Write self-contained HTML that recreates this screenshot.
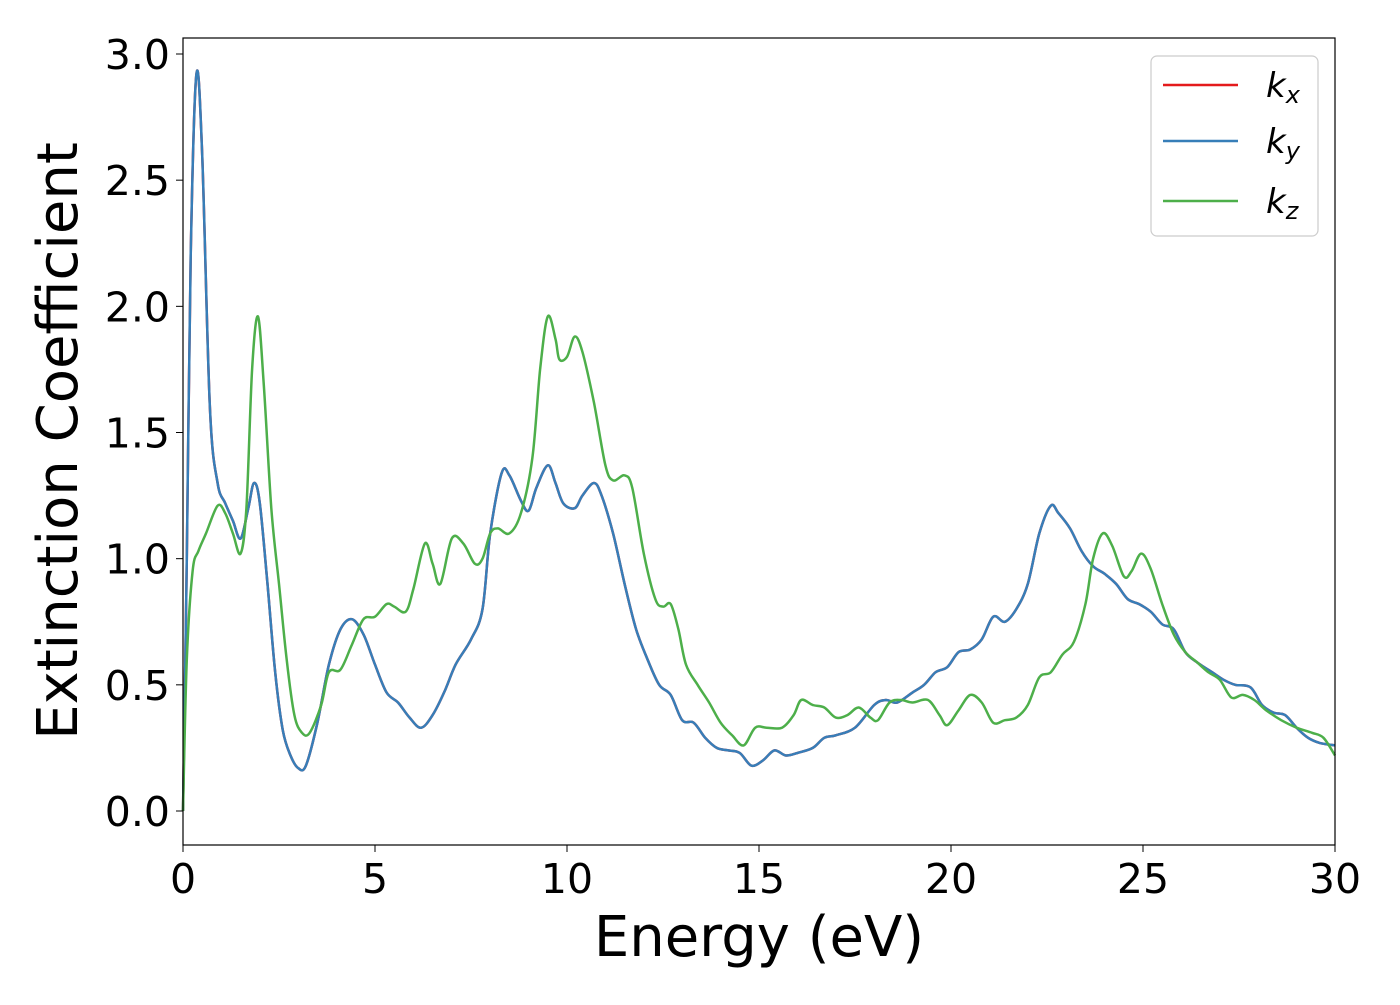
<!DOCTYPE html>
<html><head><meta charset="utf-8"><style>
body{margin:0;background:#fff;width:1400px;height:1000px;overflow:hidden}
text{font-family:"DejaVu Sans","Liberation Sans",sans-serif;fill:#000}
</style></head><body>
<svg id="chart" width="1400" height="1000" xmlns="http://www.w3.org/2000/svg">
<g id="marks"></g>
<rect x="183" y="38" width="1152" height="807" fill="none" stroke="#000" stroke-width="1.2"/>
<g id="ticks"></g>
<text x="759" y="956" font-size="56" text-anchor="middle">Energy (eV)</text>
<text transform="translate(77,441) rotate(-90)" font-size="56" text-anchor="middle">Extinction Coefficient</text>
<g>
<rect x="1151" y="56" width="167" height="180" rx="6" fill="#fff" fill-opacity="0.8" stroke="#ccc" stroke-width="1.2"/>
<line x1="1163" y1="85" x2="1238" y2="85" stroke="#e41a1c" stroke-width="2.5"/>
<line x1="1163" y1="141" x2="1238" y2="141" stroke="#377eb8" stroke-width="2.5"/>
<line x1="1163" y1="201" x2="1238" y2="201" stroke="#4daf4a" stroke-width="2.5"/>
<text x="1266" y="97" font-size="34" font-style="italic">k<tspan font-size="24" dy="6">x</tspan></text>
<text x="1266" y="153" font-size="34" font-style="italic">k<tspan font-size="24" dy="6">y</tspan></text>
<text x="1266" y="213" font-size="34" font-style="italic">k<tspan font-size="24" dy="6">z</tspan></text>
</g>
</svg>
<script>
const xTicks=[0,5,10,15,20,25,30];
const yTicks=[0.0,0.5,1.0,1.5,2.0,2.5,3.0];
const energyKxy=[0,0.1,0.2,0.35,0.5,0.7,0.9,1.1,1.3,1.5,1.7,1.85,2.0,2.2,2.4,2.6,2.8,3.0,3.2,3.5,3.8,4.1,4.4,4.7,5.0,5.3,5.6,5.9,6.2,6.5,6.8,7.1,7.5,7.8,8.0,8.3,8.5,8.8,9.0,9.2,9.5,9.7,9.9,10.2,10.4,10.7,10.9,11.2,11.5,11.8,12.1,12.4,12.7,13.0,13.3,13.6,13.9,14.2,14.5,14.8,15.1,15.4,15.7,16.0,16.4,16.7,17.0,17.5,18.0,18.3,18.6,19.0,19.3,19.6,19.9,20.2,20.5,20.8,21.1,21.4,21.7,22.0,22.3,22.6,22.8,23.1,23.4,23.7,24.0,24.3,24.6,24.9,25.2,25.5,25.8,26.1,26.4,26.8,27.1,27.4,27.8,28.1,28.4,28.7,29.0,29.3,29.6,30];
const kxy=[0,1.0,2.2,2.92,2.6,1.6,1.3,1.22,1.15,1.08,1.2,1.3,1.22,0.9,0.55,0.32,0.22,0.17,0.18,0.35,0.58,0.72,0.76,0.7,0.58,0.47,0.43,0.37,0.33,0.38,0.47,0.58,0.68,0.8,1.1,1.34,1.33,1.23,1.19,1.28,1.37,1.3,1.22,1.2,1.25,1.3,1.25,1.1,0.9,0.72,0.6,0.5,0.46,0.36,0.35,0.29,0.25,0.24,0.23,0.18,0.2,0.24,0.22,0.23,0.25,0.29,0.3,0.33,0.42,0.44,0.43,0.47,0.5,0.55,0.57,0.63,0.64,0.68,0.77,0.75,0.8,0.9,1.1,1.21,1.18,1.12,1.03,0.97,0.94,0.9,0.84,0.82,0.79,0.74,0.72,0.63,0.59,0.55,0.52,0.5,0.49,0.42,0.39,0.38,0.33,0.29,0.27,0.26];
const energyKz=[0,0.1,0.25,0.4,0.6,0.9,1.1,1.3,1.5,1.65,1.8,1.95,2.1,2.3,2.5,2.7,2.9,3.1,3.3,3.6,3.8,4.1,4.4,4.7,5.0,5.3,5.5,5.8,6.0,6.3,6.5,6.7,7.0,7.3,7.6,7.8,8.0,8.2,8.5,8.8,9.1,9.3,9.5,9.7,9.8,10.0,10.2,10.4,10.7,11.0,11.2,11.5,11.7,12.0,12.3,12.5,12.7,12.9,13.1,13.4,13.7,14.0,14.3,14.6,14.9,15.2,15.6,15.9,16.1,16.4,16.7,17.0,17.3,17.6,17.9,18.1,18.4,18.7,19.0,19.4,19.7,19.9,20.2,20.5,20.8,21.1,21.4,21.7,22.0,22.3,22.6,22.9,23.2,23.5,23.7,23.95,24.2,24.5,24.7,24.95,25.2,25.5,25.8,26.1,26.4,26.7,27.0,27.3,27.6,27.9,28.2,28.6,29.0,29.4,29.7,30];
const kz=[0,0.6,0.95,1.03,1.1,1.21,1.18,1.1,1.02,1.2,1.75,1.96,1.7,1.2,0.9,0.6,0.38,0.31,0.31,0.42,0.55,0.56,0.66,0.76,0.77,0.82,0.81,0.79,0.88,1.06,0.98,0.9,1.08,1.06,0.98,1.0,1.1,1.12,1.1,1.18,1.4,1.75,1.96,1.87,1.79,1.8,1.88,1.82,1.62,1.37,1.31,1.33,1.28,1.02,0.84,0.81,0.82,0.72,0.58,0.5,0.43,0.35,0.3,0.26,0.33,0.33,0.33,0.38,0.44,0.42,0.41,0.37,0.38,0.41,0.37,0.36,0.43,0.44,0.43,0.44,0.38,0.34,0.4,0.46,0.43,0.35,0.36,0.37,0.42,0.53,0.55,0.62,0.67,0.82,1.0,1.1,1.05,0.93,0.95,1.02,0.96,0.82,0.7,0.63,0.59,0.55,0.52,0.45,0.46,0.44,0.4,0.36,0.33,0.31,0.29,0.22];
const NS="http://www.w3.org/2000/svg";
const X0=183,X1=1335,Y0=811,Y3=54;
function sx(v){return X0+(v-0)/30*(X1-X0);}
function sy(v){return Y0+(v-0)/3*(Y3-Y0);}
function pathFor(xs,ys){
  const p=xs.map((x,i)=>[sx(x),sy(ys[i])]);
  let d="M"+p[0][0].toFixed(1)+","+p[0][1].toFixed(1);
  for(let i=0;i<p.length-1;i++){
    const a=p[Math.max(i-1,0)],b=p[i],c=p[i+1],e=p[Math.min(i+2,p.length-1)];
    const c1=[b[0]+(c[0]-a[0])/6,b[1]+(c[1]-a[1])/6],c2=[c[0]-(e[0]-b[0])/6,c[1]-(e[1]-b[1])/6];
    d+="C"+c1[0].toFixed(1)+","+c1[1].toFixed(1)+" "+c2[0].toFixed(1)+","+c2[1].toFixed(1)+" "+c[0].toFixed(1)+","+c[1].toFixed(1);
  }
  return d;
}
const marks=document.getElementById('marks');
function addLine(xs,ys,color,name){
  const el=document.createElementNS(NS,'path');
  el.setAttribute('d',pathFor(xs,ys));
  el.setAttribute('fill','none');el.setAttribute('stroke',color);el.setAttribute('stroke-width','2.5');
  
  
  marks.appendChild(el);
}
addLine(energyKxy,kxy,'#e41a1c','line-kx');
addLine(energyKxy,kxy,'#377eb8','line-ky');
addLine(energyKz,kz,'#4daf4a','line-kz');
const tg=document.getElementById('ticks');
xTicks.forEach(v=>{
  const l=document.createElementNS(NS,'line');
  l.setAttribute('x1',sx(v));l.setAttribute('x2',sx(v));l.setAttribute('y1',845);l.setAttribute('y2',852);l.setAttribute('stroke','#000');
  
  
  tg.appendChild(l);
  const t=document.createElementNS(NS,'text');
  t.setAttribute('x',sx(v));t.setAttribute('y',893);t.setAttribute('font-size','41');t.setAttribute('text-anchor','middle');
  t.textContent=String(v);
  
  
  tg.appendChild(t);
});
yTicks.forEach(v=>{
  const l=document.createElementNS(NS,'line');
  l.setAttribute('x1',176);l.setAttribute('x2',183);l.setAttribute('y1',sy(v));l.setAttribute('y2',sy(v));l.setAttribute('stroke','#000');
  
  
  tg.appendChild(l);
  const t=document.createElementNS(NS,'text');
  t.setAttribute('x',170);t.setAttribute('y',sy(v)+15);t.setAttribute('font-size','41');t.setAttribute('text-anchor','end');
  t.textContent=v.toFixed(1);
  
  
  tg.appendChild(t);
});
</script>
</body></html>
